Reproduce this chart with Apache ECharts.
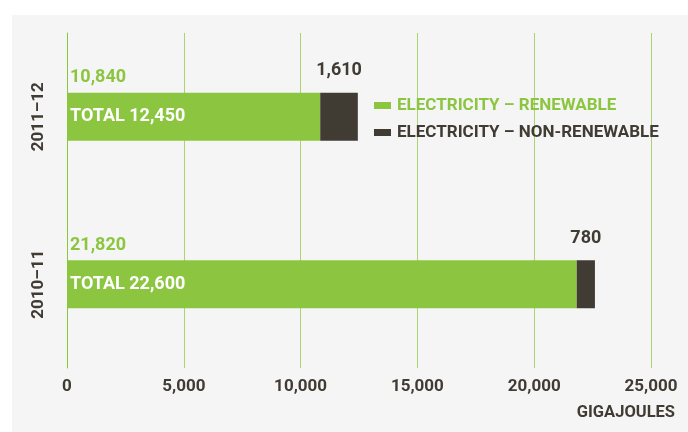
<!DOCTYPE html>
<html>
<head>
<meta charset="utf-8">
<script src="https://cdn.jsdelivr.net/npm/echarts@6/dist/echarts.min.js"></script>
<style>
  html, body { margin: 0; padding: 0; background: #ffffff; }
  #wrap { position: relative; width: 688px; height: 432px; overflow: hidden; }
  #panel { position: absolute; left: 12px; top: 15px; right: 0; bottom: 0; background: #f5f5f5; }
  #chart { position: absolute; left: 0; top: 0; width: 688px; height: 432px; }
</style>
</head>
<body>
<div id="wrap">
  <div id="panel"></div>
  <div id="chart"></div>
</div>
<script>
// Electricity use by year, gigajoules
const years = ['2010–11', '2011–12'];
const renewable = [21820, 10840];
const nonRenewable = [780, 1610];
const xTicks = [0, 5000, 10000, 15000, 20000, 25000];

const GREEN = '#8cc641';
const DARK = '#403c34';
const FONT = 'Roboto';

const fmt = v => v.toLocaleString('en-US');
const totals = renewable.map((v, i) => v + nonRenewable[i]);

const chart = echarts.init(document.getElementById('chart'), null, { renderer: 'canvas' });

chart.setOption({
  backgroundColor: 'transparent',
  textStyle: { fontFamily: FONT, fontWeight: 'bold' },
  animation: false,
  grid: { left: 67, right: 37, top: 33, bottom: 64, containLabel: false },
  legend: {
    orient: 'vertical',
    left: 374,
    top: 97,
    padding: 0,
    itemWidth: 17,
    itemHeight: 7,
    itemGap: 10,
    icon: 'rect',
    selectedMode: false,
    textStyle: { fontFamily: FONT, fontWeight: 'bold', fontSize: 17, padding: [0, 0, 0, 1] },
    data: [
      { name: 'ELECTRICITY – RENEWABLE', textStyle: { color: GREEN } },
      { name: 'ELECTRICITY – NON-RENEWABLE', textStyle: { color: DARK } }
    ]
  },
  xAxis: {
    type: 'value',
    min: 0,
    max: 25000,
    interval: 5000,
    axisLine: { show: false },
    axisTick: { show: false },
    splitLine: { show: true, lineStyle: { color: '#a9d46f', width: 1 } },
    axisLabel: {
      color: DARK, fontFamily: FONT, fontWeight: 'bold', fontSize: 17, margin: 10,
      formatter: v => xTicks.includes(v) ? fmt(v) : ''
    },
    name: 'GIGAJOULES',
    nameLocation: 'end',
    nameGap: 24,
    nameTextStyle: {
      color: DARK, fontFamily: FONT, fontWeight: 'bold', fontSize: 16.5,
      align: 'right', verticalAlign: 'top', padding: [36, 0, 0, 0]
    }
  },
  yAxis: {
    type: 'category',
    data: years,
    axisLine: { show: true, lineStyle: { color: GREEN, width: 1 } },
    axisTick: { show: false },
    axisLabel: {
      rotate: 90, color: DARK, fontFamily: FONT, fontWeight: 'bold', fontSize: 17, margin: 20
    }
  },
  series: [
    {
      name: 'ELECTRICITY – RENEWABLE',
      type: 'bar',
      stack: 'total',
      barWidth: 48,
      itemStyle: { color: GREEN },
      label: {
        show: true,
        position: 'insideLeft',
        distance: 3,
        color: '#ffffff',
        fontFamily: FONT, fontWeight: 'bold', fontSize: 18,
        formatter: p => 'TOTAL ' + fmt(totals[p.dataIndex])
      },
      data: renewable
    },
    {
      name: 'ELECTRICITY – NON-RENEWABLE',
      type: 'bar',
      stack: 'total',
      barWidth: 48,
      itemStyle: { color: DARK },
      label: {
        show: true,
        position: 'top',
        distance: 13,
        color: DARK,
        fontFamily: FONT, fontWeight: 'bold', fontSize: 18,
        formatter: p => fmt(p.value)
      },
      data: nonRenewable
    },
    {
      // carries the renewable value label above the green segment
      name: 'renewable-label',
      type: 'bar',
      barWidth: 48,
      barGap: '-100%',
      silent: true,
      itemStyle: { color: 'transparent' },
      label: {
        show: true,
        position: [3, -24],
        color: GREEN,
        fontFamily: FONT, fontWeight: 'bold', fontSize: 18,
        formatter: p => fmt(p.value)
      },
      data: renewable,
      z: 1
    }
  ]
});
</script>
</body>
</html>
